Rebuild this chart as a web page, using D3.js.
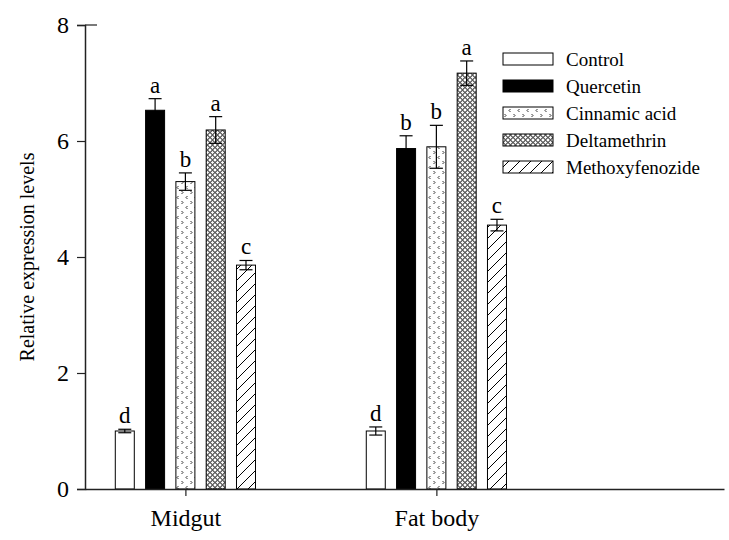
<!DOCTYPE html>
<html>
<head>
<meta charset="utf-8">
<script src="https://cdn.jsdelivr.net/npm/d3@7"></script>
<style>
  body { margin: 0; background: #fff; }
  svg text { font-family: "Times New Roman", "Liberation Serif", Times, serif !important; fill: #000; }
</style>
</head>
<body>
<div id="chart"></div>
<script>
// Data
const tissues = ["Midgut", "Fat body"]
const treatments = ["Control", "Quercetin", "Cinnamic acid", "Deltamethrin", "Methoxyfenozide"]
const midgutMeans = [1.0, 6.53, 5.3, 6.19, 3.86]
const midgutErrors = [0.03, 0.2, 0.15, 0.23, 0.08]
const midgutLetters = ["d", "a", "b", "a", "c"]
const fatBodyMeans = [1.0, 5.87, 5.9, 7.17, 4.55]
const fatBodyErrors = [0.07, 0.22, 0.37, 0.21, 0.1]
const fatBodyLetters = ["d", "b", "b", "a", "c"]
const yTicks = [0, 2, 4, 6, 8]

const width = 729
const height = 540
const serif = "'Times New Roman', 'Liberation Serif', Times, serif"

const svg = d3.select("#chart").append("svg").attr("width", width).attr("height", height)
  .attr("font-family", serif)

// fill patterns
const defs = svg.append("defs")

const dots = defs.append("pattern").attr("id", "pat-dots")
  .attr("patternUnits", "userSpaceOnUse").attr("width", 9).attr("height", 10)
dots.append("rect").attr("width", 9).attr("height", 10).attr("fill", "#fff")
dots.append("path").attr("d", "M1.5,1 l1.5,1.5 l-1.5,1.5 M7.5,6 l-1.5,1.5 l1.5,1.5")
  .attr("stroke", "#000").attr("stroke-width", 0.8).attr("fill", "none")

const mesh = defs.append("pattern").attr("id", "pat-mesh")
  .attr("patternUnits", "userSpaceOnUse").attr("width", 5).attr("height", 5)
mesh.append("rect").attr("width", 5).attr("height", 5).attr("fill", "#fff")
mesh.append("circle").attr("cx", 2.5).attr("cy", 2.5).attr("r", 1.9)
  .attr("stroke", "#000").attr("stroke-width", 0.9).attr("fill", "none")

const hatch = defs.append("pattern").attr("id", "pat-hatch")
  .attr("patternUnits", "userSpaceOnUse").attr("width", 11).attr("height", 11)
hatch.append("rect").attr("width", 11).attr("height", 11).attr("fill", "#fff")
hatch.append("path").attr("d", "M0,11 L11,0 M-2,2 L2,-2 M9,13 L13,9")
  .attr("stroke", "#000").attr("stroke-width", 1)

const fills = ["#fff", "#000", "url(#pat-dots)", "url(#pat-mesh)", "url(#pat-hatch)"]

// scales
const x = d3.scaleLinear().domain([-0.4, 2.146]).range([85, 724])
const inner = d3.scaleBand().domain(treatments).range([-70.1, 70.1]).paddingInner(0.373)
const y = d3.scaleLinear().domain([0, 8]).range([489, 25])

// build rows
const rows = []
tissues.forEach((t, i) => {
  const means = i === 0 ? midgutMeans : fatBodyMeans
  const errs = i === 0 ? midgutErrors : fatBodyErrors
  const letters = i === 0 ? midgutLetters : fatBodyLetters
  treatments.forEach((tr, j) => {
    rows.push({ tissue: i, treatment: tr, k: j, mean: means[j], err: errs[j], letter: letters[j] })
  })
})

const bx = (d) => x(d.tissue) + inner(d.treatment)

// bars
svg.append("g").selectAll("rect").data(rows).join("rect")
  .attr("x", bx)
  .attr("y", (d) => y(d.mean))
  .attr("width", inner.bandwidth())
  .attr("height", (d) => y(0) - y(d.mean))
  .attr("fill", (d) => fills[d.k])
  .attr("stroke", "#000").attr("stroke-width", 1)

// error bars
const eb = svg.append("g").attr("stroke", "#000").attr("stroke-width", 1.2)
rows.forEach((d) => {
  const cx = bx(d) + inner.bandwidth() / 2
  eb.append("line").attr("x1", cx).attr("x2", cx).attr("y1", y(d.mean - d.err)).attr("y2", y(d.mean + d.err))
  eb.append("line").attr("x1", cx - 6.5).attr("x2", cx + 6.5).attr("y1", y(d.mean + d.err)).attr("y2", y(d.mean + d.err))
  eb.append("line").attr("x1", cx - 6.5).attr("x2", cx + 6.5).attr("y1", y(d.mean - d.err)).attr("y2", y(d.mean - d.err))
})

// significance letters
svg.append("g").selectAll("text").data(rows).join("text")
  .attr("x", (d) => bx(d) + inner.bandwidth() / 2)
  .attr("y", (d) => y(d.mean + d.err) - 6)
  .attr("text-anchor", "middle")
  .attr("font-size", 23)
  .text((d) => d.letter)

// axes
const yAxis = svg.append("g").attr("transform", `translate(${x.range()[0]},0)`)
  .call(d3.axisLeft(y).tickValues(yTicks).tickSize(8).tickPadding(8).tickFormat(d3.format("d")))
yAxis.attr("font-family", serif).attr("font-size", 24)

const xAxis = svg.append("g").attr("transform", `translate(0,${y(0)})`)
  .call(d3.axisBottom(x).tickValues([0, 1]).tickSize(7).tickPadding(13).tickSizeOuter(0)
    .tickFormat((i) => tissues[i]))
xAxis.attr("font-family", serif).attr("font-size", 24)

svg.selectAll(".domain").attr("stroke", "#222").attr("stroke-width", 1.5)
svg.selectAll(".tick line").attr("stroke", "#222").attr("stroke-width", 1.2)

// short stub at the top of the y axis
svg.append("line").attr("x1", x.range()[0]).attr("x2", x.range()[0] + 12)
  .attr("y1", y(8)).attr("y2", y(8)).attr("stroke", "#222").attr("stroke-width", 1.2)

// y axis title
svg.append("text")
  .attr("transform", `translate(34,${(y(0) + y(8)) / 2}) rotate(-90)`)
  .attr("text-anchor", "middle")
  .attr("font-size", 20)
  .text("Relative expression levels")

// legend
const legend = svg.append("g").attr("transform", "translate(503,59)")
treatments.forEach((tr, j) => {
  const g = legend.append("g").attr("transform", `translate(0,${j * 27})`)
  g.append("rect").attr("x", 0).attr("y", -6).attr("width", 50).attr("height", 12)
    .attr("fill", fills[j]).attr("stroke", "#000").attr("stroke-width", 1)
  g.append("text").attr("x", 63).attr("y", 7).attr("font-size", 19).text(tr)
})
</script>
</body>
</html>
